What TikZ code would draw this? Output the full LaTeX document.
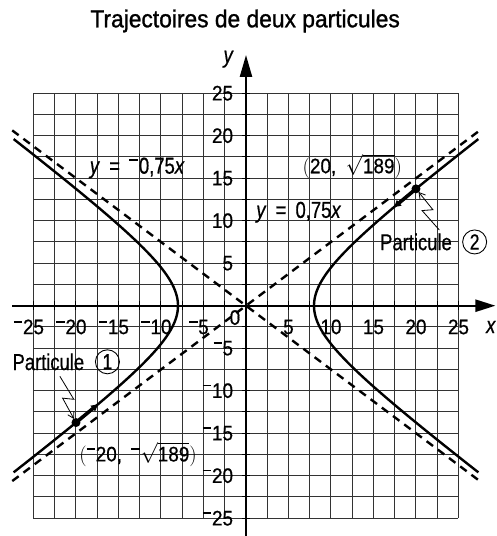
\documentclass[tikz,border=0pt]{standalone}
\usepackage{fontspec}
\setmainfont{Liberation Sans}[FakeStretch=0.9,FakeBold=0.6]
\newfontfamily\condfont{Liberation Sans}[FakeStretch=0.8,FakeBold=0.6]
\newfontfamily\titlefont{Liberation Sans}[FakeStretch=0.93,FakeBold=1.1]
\usetikzlibrary{arrows.meta,calc,positioning}
\newcommand\mns{\rule[0.55em]{0.4em}{0.07em}\kern0.03em}
\begin{document}
\begin{tikzpicture}[x=8.5pt,y=8.5pt,
  every node/.style={font=\fontsize{21}{24}\selectfont, inner sep=1pt},
  condf/.style={font=\fontsize{23}{26}\selectfont\condfont},
  gridline/.style={line width=1pt, black!80},
  axisline/.style={line width=2.3pt},
  tickmark/.style={line width=1pt},
  curveline/.style={line width=2.4pt},
  asym/.style={line width=2.4pt, dash pattern=on 8pt off 6pt},
  veloc/.style={line width=3.6pt, -{Latex[length=8pt,width=8pt]}},
  bolt/.style={line width=0.8pt, -{Straight Barb[length=6pt,width=7pt]}, shorten >=4pt},
  dotn/.style={circle, fill=black, inner sep=0pt, minimum size=9pt},
  numc/.style={draw, circle, line width=0.9pt, inner sep=0pt, minimum size=24pt, font=\fontsize{22}{24}\selectfont\condfont},
  lbl/.style={inner sep=0pt}]
\useasboundingbox (-28.941,-27.094) rectangle (29.412,35.965);
% title
\node[font=\fontsize{24.5}{28}\selectfont\titlefont] (title) at (-0.1,33.5) {Trajectoires de deux particules};
% grid
\foreach \i in {-25,-22.5,...,25} {
  \draw[gridline] (\i,-25) -- (\i,25);
  \draw[gridline] (-25,\i) -- (25,\i);
}
% axes
\coordinate (xs) at (-27.5,0);
\coordinate (xe) at (29.35,0);
\coordinate (ys) at (0,-27.2);
\coordinate (ye) at (0,29.5);
\draw[axisline, -{Triangle[length=20pt,width=12pt]}] (xs) -- (xe);
\draw[axisline, -{Triangle[length=22pt,width=12pt]}] (ys) -- (ye);
\foreach \i in {-25,-22.5,...,25} {
  \draw[tickmark] (\i,-0.5) -- (\i,0.5);
  \draw[tickmark] (-0.5,\i) -- (0.5,\i);
}
\node[condf, font=\fontsize{23}{26}\selectfont\condfont\itshape] (xl) at (28.8,-2.5) {x};
\node[condf, font=\fontsize{23}{26}\selectfont\condfont\itshape] (yl) at (-2.1,29.0) {y};
% axis numbers
\foreach \i in {5,10,15,20,25} {
  \node[lbl] (xp\i) at (\i,-2.5) {\i};
  \node[lbl] (xn\i) at (-\i,-2.5) {\llap{\mns}\i};
  \node[lbl, anchor=east] (yp\i) at (-1.5,\i) {\i};
  \node[lbl, anchor=east] (yn\i) at (-1.5,-\i) {\mns\i};
}
\node[lbl] (orig) at (-1.3,-1.4) {0};
% asymptotes
\coordinate (a1s) at (-27.5,-20.625);
\coordinate (a1e) at (27.5,20.625);
\coordinate (a2s) at (-27.5,20.625);
\coordinate (a2e) at (27.5,-20.625);
\draw[asym] (a1s) -- (a1e);
\draw[asym] (a2s) -- (a2e);
% hyperbola
\draw[curveline] plot[domain=-1.9:1.9, samples=90, variable=\t] ({8*cosh(\t)},{6*sinh(\t)});
\draw[curveline] plot[domain=-1.9:1.9, samples=90, variable=\t] ({-8*cosh(\t)},{6*sinh(\t)});
% particles
\node[dotn] (p2) at (20,13.748) {};
\node[dotn] (p1) at (-20,-13.748) {};
\coordinate (v2) at (17.3,11.50);
\coordinate (v1) at (-17.3,-11.50);
\draw[veloc] (p2.center) -- (v2);
\draw[veloc] (p1.center) -- (v1);
% equations
\node[condf] (eq1) at (-12.8,16.2) {\textit{y}\hspace{0.4em}=\hspace{0.4em}\mns0,75\textit{x}};
\node[condf] (eq2) at (6.2,11.0) {\textit{y}\hspace{0.4em}=\hspace{0.4em}0,75\textit{x}};
% coordinates labels
\node (c2) at (12.5,16.4) {$\biggl(\mbox{20,\hspace{0.45em}}\sqrt{\mbox{189}}\biggr)$};
\node (c1) at (-12.7,-17.5) {$\biggl(\mbox{\mns20,\hspace{0.45em}\mns}\sqrt{\mbox{189}}\biggr)$};
% particle labels
\node[condf, anchor=east] (lab2) at (24.35,7.5) {Particule};
\node[numc] (n2) at (26.9,7.5) {2};
\node[condf, anchor=east] (lab1) at (-18.9,-6.6) {Particule};
\node[numc] (n1) at (-16.3,-6.6) {1};
% lightning pointers
\coordinate (l2s) at (22.75,8.9);
\coordinate (l1s) at (-21.9,-8.3);
\draw[bolt] (l2s) -- ($(l2s)!0.55!12:(p2)$) -- ($(l2s)!0.45!-12:(p2)$) -- (p2.center);
\draw[bolt] (l1s) -- ($(l1s)!0.55!12:(p1)$) -- ($(l1s)!0.45!-12:(p1)$) -- (p1.center);
\end{tikzpicture}
\end{document}
